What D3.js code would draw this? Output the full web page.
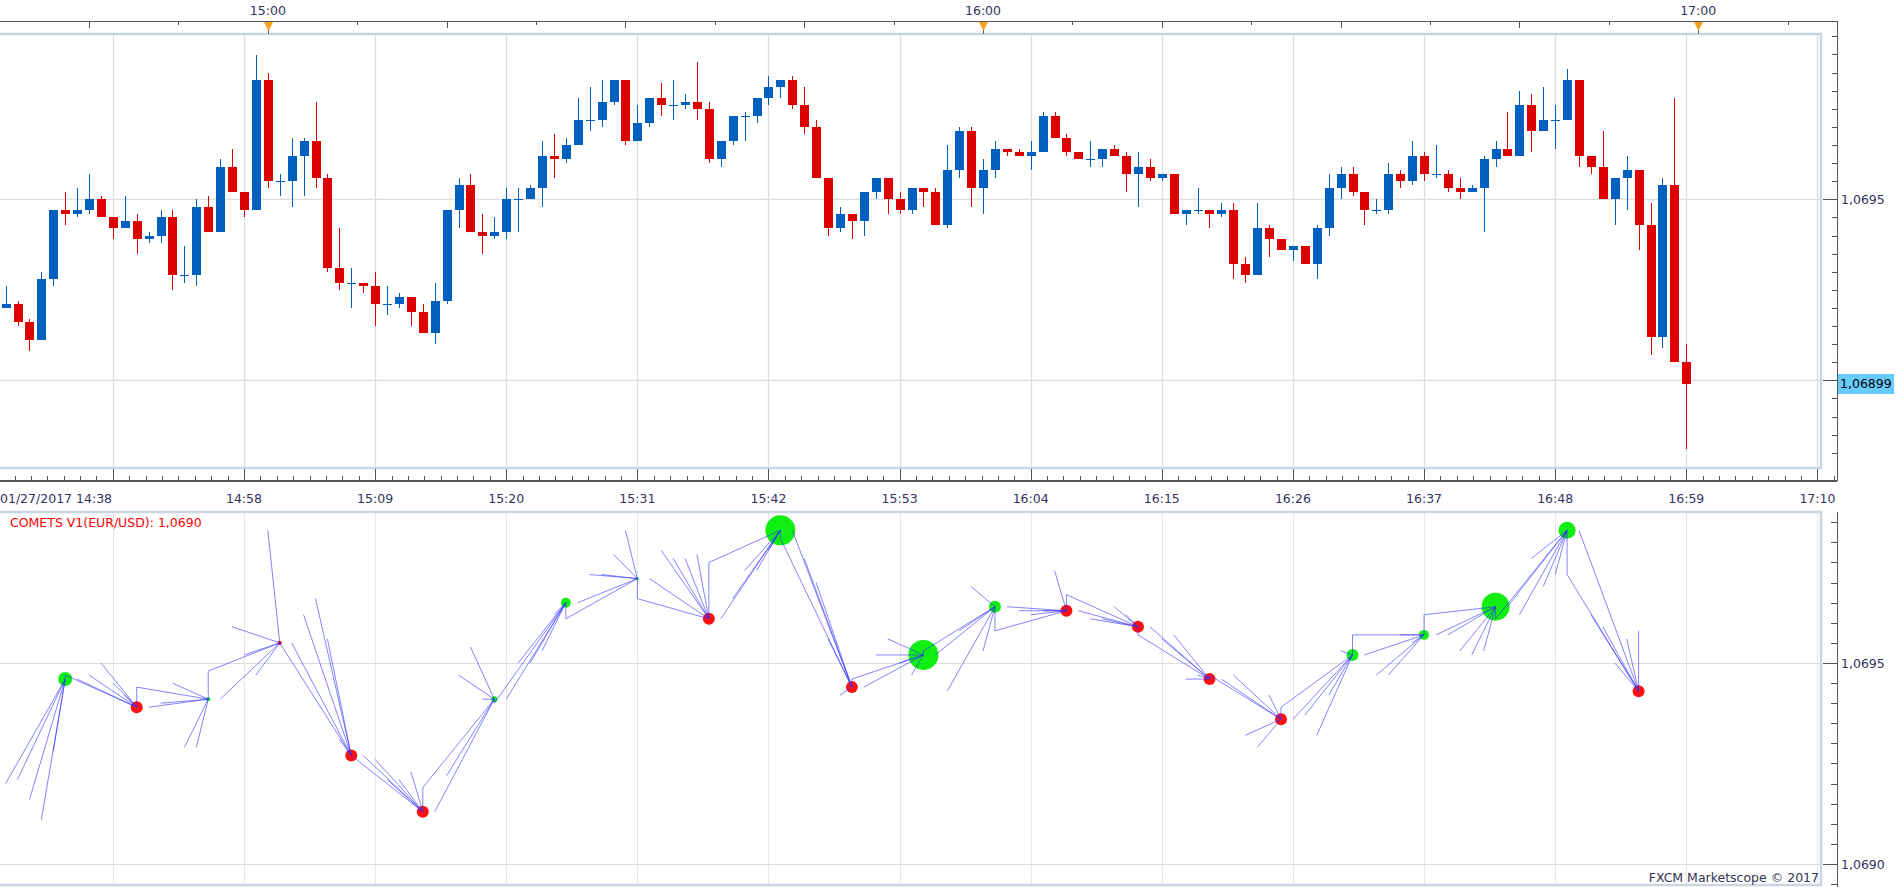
<!DOCTYPE html>
<html>
<head>
<meta charset="utf-8">
<title>EUR/USD 1 min - COMETS V1</title>
<script src="https://cdn.jsdelivr.net/npm/d3@7"></script>
<style>
  body { margin: 0; background: #fff; }
  svg { display: block; }
  text { font-family: "DejaVu Sans", Verdana, sans-serif; font-size: 12.5px; }
</style>
</head>
<body>
<div id="chart"></div>
<script>
// layout constants
const WIDTH = 1903;
const HEIGHT = 887;
const AXIS_X = 1837;        // right price axis line
const TOP_PANEL = { left: 0, right: 1821, top: 34, bottom: 468 };
const BOTTOM_PANEL = { left: 0, right: 1821, top: 512, bottom: 885 };
const TOP_AXIS_Y = 21;
const TIME_AXIS_Y = 481;
const CANDLE_WIDTH = 9;

const UP_COLOR = "#0060c0";
const DOWN_COLOR = "#dd0000";
const AXIS_TEXT = "#33335f";
const GRID_COLOR = "#dcdcdc";
const BORDER_COLOR = "#cad6e4";

// ---- data: EUR/USD one minute bars, 01/27/2017 14:38 -> 16:59 ----
const FIRST_BAR = "14:38";

const candleOpen = [
  1.06920, 1.06921, 1.06916, 1.06911, 1.06928, 1.06947, 1.06946, 1.06947, 1.06950, 1.06945,
  1.06942, 1.06944, 1.06939, 1.06940, 1.06945, 1.06929, 1.06929, 1.06948, 1.06941, 1.06959,
  1.06952, 1.06947, 1.06983, 1.06955, 1.06955, 1.06962, 1.06966, 1.06956, 1.06931, 1.06927,
  1.06927, 1.06926, 1.06921, 1.06921, 1.06923, 1.06919, 1.06913, 1.06922, 1.06947, 1.06954,
  1.06941, 1.06940, 1.06941, 1.06950, 1.06950, 1.06953, 1.06962, 1.06961, 1.06965, 1.06972,
  1.06972, 1.06977, 1.06983, 1.06966, 1.06971, 1.06978, 1.06976, 1.06976, 1.06977, 1.06975,
  1.06961, 1.06966, 1.06973, 1.06973, 1.06978, 1.06981, 1.06983, 1.06976, 1.06970, 1.06956,
  1.06942, 1.06946, 1.06944, 1.06952, 1.06956, 1.06950, 1.06947, 1.06953, 1.06952, 1.06943,
  1.06958, 1.06969, 1.06953, 1.06958, 1.06964, 1.06963, 1.06962, 1.06963, 1.06973, 1.06967,
  1.06963, 1.06961, 1.06961, 1.06964, 1.06962, 1.06957, 1.06959, 1.06956, 1.06957, 1.06946,
  1.06947, 1.06947, 1.06946, 1.06947, 1.06932, 1.06929, 1.06942, 1.06939, 1.06936, 1.06937,
  1.06932, 1.06942, 1.06953, 1.06957, 1.06952, 1.06947, 1.06947, 1.06957, 1.06955, 1.06962,
  1.06957, 1.06957, 1.06953, 1.06952, 1.06953, 1.06961, 1.06964, 1.06962, 1.06976, 1.06969,
  1.06972, 1.06972, 1.06983, 1.06962, 1.06959, 1.06950, 1.06956, 1.06958, 1.06943, 1.06912,
  1.06954, 1.06905
];
const candleHigh = [
  1.06926, 1.06922, 1.06917, 1.06930, 1.06947, 1.06952, 1.06953, 1.06957, 1.06951, 1.06945,
  1.06951, 1.06946, 1.06941, 1.06947, 1.06947, 1.06937, 1.06950, 1.06951, 1.06961, 1.06964,
  1.06952, 1.06990, 1.06985, 1.06957, 1.06967, 1.06967, 1.06977, 1.06957, 1.06942, 1.06931,
  1.06927, 1.06930, 1.06926, 1.06924, 1.06923, 1.06921, 1.06927, 1.06947, 1.06956, 1.06957,
  1.06946, 1.06945, 1.06953, 1.06953, 1.06954, 1.06966, 1.06968, 1.06967, 1.06978, 1.06981,
  1.06983, 1.06983, 1.06983, 1.06976, 1.06978, 1.06982, 1.06983, 1.06979, 1.06988, 1.06977,
  1.06966, 1.06973, 1.06974, 1.06978, 1.06984, 1.06983, 1.06984, 1.06981, 1.06972, 1.06956,
  1.06948, 1.06946, 1.06952, 1.06956, 1.06956, 1.06952, 1.06953, 1.06953, 1.06953, 1.06965,
  1.06970, 1.06970, 1.06961, 1.06966, 1.06964, 1.06964, 1.06966, 1.06974, 1.06974, 1.06968,
  1.06963, 1.06966, 1.06964, 1.06965, 1.06963, 1.06963, 1.06961, 1.06957, 1.06957, 1.06947,
  1.06953, 1.06947, 1.06949, 1.06949, 1.06934, 1.06949, 1.06943, 1.06939, 1.06937, 1.06937,
  1.06943, 1.06957, 1.06959, 1.06959, 1.06952, 1.06950, 1.06960, 1.06958, 1.06966, 1.06963,
  1.06965, 1.06958, 1.06956, 1.06954, 1.06962, 1.06966, 1.06974, 1.06980, 1.06979, 1.06981,
  1.06976, 1.06986, 1.06983, 1.06962, 1.06969, 1.06956, 1.06962, 1.06958, 1.06949, 1.06956,
  1.06978, 1.06910
];
const candleLow = [
  1.06920, 1.06915, 1.06908, 1.06911, 1.06926, 1.06943, 1.06945, 1.06946, 1.06945, 1.06939,
  1.06942, 1.06935, 1.06938, 1.06938, 1.06925, 1.06927, 1.06926, 1.06941, 1.06941, 1.06952,
  1.06945, 1.06947, 1.06953, 1.06951, 1.06948, 1.06951, 1.06953, 1.06930, 1.06925, 1.06920,
  1.06924, 1.06915, 1.06918, 1.06920, 1.06915, 1.06913, 1.06910, 1.06921, 1.06942, 1.06941,
  1.06935, 1.06939, 1.06939, 1.06941, 1.06950, 1.06948, 1.06956, 1.06960, 1.06965, 1.06969,
  1.06970, 1.06976, 1.06965, 1.06966, 1.06970, 1.06973, 1.06972, 1.06975, 1.06972, 1.06960,
  1.06959, 1.06965, 1.06966, 1.06971, 1.06976, 1.06978, 1.06975, 1.06968, 1.06956, 1.06940,
  1.06941, 1.06939, 1.06940, 1.06950, 1.06946, 1.06946, 1.06946, 1.06948, 1.06943, 1.06942,
  1.06956, 1.06948, 1.06946, 1.06956, 1.06962, 1.06962, 1.06958, 1.06963, 1.06967, 1.06962,
  1.06961, 1.06959, 1.06959, 1.06962, 1.06952, 1.06948, 1.06955, 1.06955, 1.06946, 1.06943,
  1.06946, 1.06942, 1.06945, 1.06928, 1.06927, 1.06929, 1.06934, 1.06936, 1.06933, 1.06932,
  1.06928, 1.06940, 1.06950, 1.06951, 1.06943, 1.06946, 1.06946, 1.06953, 1.06954, 1.06955,
  1.06956, 1.06952, 1.06950, 1.06952, 1.06941, 1.06959, 1.06962, 1.06962, 1.06963, 1.06969,
  1.06964, 1.06972, 1.06959, 1.06957, 1.06950, 1.06943, 1.06947, 1.06936, 1.06907, 1.06909,
  1.06905, 1.06881
];
const candleClose = [
  1.06921, 1.06916, 1.06911, 1.06928, 1.06947, 1.06946, 1.06947, 1.06950, 1.06945, 1.06942,
  1.06944, 1.06939, 1.06940, 1.06945, 1.06929, 1.06929, 1.06948, 1.06941, 1.06959, 1.06952,
  1.06947, 1.06983, 1.06955, 1.06955, 1.06962, 1.06966, 1.06956, 1.06931, 1.06927, 1.06927,
  1.06926, 1.06921, 1.06921, 1.06923, 1.06919, 1.06913, 1.06922, 1.06947, 1.06954, 1.06941,
  1.06940, 1.06941, 1.06950, 1.06950, 1.06953, 1.06962, 1.06961, 1.06965, 1.06972, 1.06972,
  1.06977, 1.06983, 1.06966, 1.06971, 1.06978, 1.06976, 1.06976, 1.06977, 1.06975, 1.06961,
  1.06966, 1.06973, 1.06973, 1.06978, 1.06981, 1.06983, 1.06976, 1.06970, 1.06956, 1.06942,
  1.06946, 1.06944, 1.06952, 1.06956, 1.06950, 1.06947, 1.06953, 1.06952, 1.06943, 1.06958,
  1.06969, 1.06953, 1.06958, 1.06964, 1.06963, 1.06962, 1.06963, 1.06973, 1.06967, 1.06963,
  1.06961, 1.06961, 1.06964, 1.06962, 1.06957, 1.06959, 1.06956, 1.06957, 1.06946, 1.06947,
  1.06947, 1.06946, 1.06947, 1.06932, 1.06929, 1.06942, 1.06939, 1.06936, 1.06937, 1.06932,
  1.06942, 1.06953, 1.06957, 1.06952, 1.06947, 1.06947, 1.06957, 1.06955, 1.06962, 1.06957,
  1.06957, 1.06953, 1.06952, 1.06953, 1.06961, 1.06964, 1.06962, 1.06976, 1.06969, 1.06972,
  1.06972, 1.06983, 1.06962, 1.06959, 1.06950, 1.06956, 1.06958, 1.06943, 1.06912, 1.06954,
  1.06905, 1.06899
];

// COMETS V1 nodes: one every 6 bars, starting with the 6th bar
const COMET_FIRST = 5;
const COMET_STEP = 6;
const cometColor = ["up", "down", "up", "down", "down", "down", "up", "up", "up", "down", "up", "down",
  "up", "up", "down", "down", "down", "down", "up", "up", "up", "up", "down"];
const cometWeight = [22, 16, 2, 2, 16, 16, 4, 11, 1, 16, 100, 16, 100, 16, 16, 16, 16, 16, 16, 11, 87, 32, 16];

// axis labels
const topTimeLabels = ["15:00", "16:00", "17:00"];
const bottomTimeLabels = ["01/27/2017 14:38", "14:58", "15:09", "15:20", "15:31", "15:42", "15:53",
  "16:04", "16:15", "16:26", "16:37", "16:48", "16:59", "17:10"];
const GRID_START = "14:47";
const GRID_STEP = 11;       // minutes between vertical gridlines
const priceGrid = [1.0695, 1.0690];
const INDICATOR_NAME = "COMETS V1(EUR/USD)";
const COPYRIGHT = "FXCM Marketscope \u00a9 2017";

// ---- helpers ----
const parseTime = d3.timeParse("%H:%M");
const fmt4 = (p) => d3.format(".4f")(p).replace(".", ",");
const fmt5 = (p) => d3.format(".5f")(p).replace(".", ",");

const firstTime = parseTime(FIRST_BAR);
const candles = candleOpen.map((o, i) => ({
  time: d3.timeMinute.offset(firstTime, i),
  open: o,
  high: candleHigh[i],
  low: candleLow[i],
  close: candleClose[i],
}));

const comets = cometColor.map((c, k) => {
  const n = COMET_FIRST + k * COMET_STEP;
  return { n: n, dir: c, weight: cometWeight[k], time: candles[n].time, price: candles[n].close };
});

const tails = [];
comets.forEach((c) => {
  for (let j = Math.max(0, c.n - COMET_STEP); j <= c.n; j++) {
    tails.push({ from: candles[j], to: c });
  }
});

// ---- scales ----
const x = d3.scaleTime()
  .domain([parseTime("14:38"), parseTime("17:10")])
  .range([5.6, 1817.4]);

const yTop = d3.scaleLinear().domain([1.0690, 1.0695]).range([380.3, 199.3]);
const yBot = d3.scaleLinear().domain([1.0690, 1.0695]).range([864, 663]);
const rScale = d3.scaleSqrt().domain([0, 100]).range([0, 15]);

const gridStart = parseTime(GRID_START);
const gridTimes = d3.range(0, 14).map((k) => d3.timeMinute.offset(gridStart, k * GRID_STEP));

setup();

function setup() {
  const svg = d3.select("#chart")
    .append("svg")
    .attr("width", WIDTH)
    .attr("height", HEIGHT);

  svg.append("rect").attr("width", WIDTH).attr("height", HEIGHT).attr("fill", "#fff");

  const defs = svg.append("defs");
  defs.append("clipPath").attr("id", "clip-top")
    .append("rect")
    .attr("x", TOP_PANEL.left).attr("y", TOP_PANEL.top)
    .attr("width", TOP_PANEL.right - TOP_PANEL.left)
    .attr("height", TOP_PANEL.bottom - TOP_PANEL.top);
  defs.append("clipPath").attr("id", "clip-bottom")
    .append("rect")
    .attr("x", BOTTOM_PANEL.left).attr("y", BOTTOM_PANEL.top)
    .attr("width", BOTTOM_PANEL.right - BOTTOM_PANEL.left)
    .attr("height", BOTTOM_PANEL.bottom - BOTTOM_PANEL.top);

  drawTopPanel(svg);
  drawTimeAxes(svg);
  drawPriceAxis(svg);
  drawBottomPanel(svg);
}

/**
 * Candle chart with its grid
 */
function drawTopPanel(svg) {
  const grid = svg.append("g").attr("class", "top-grid");
  grid.selectAll("line.v")
    .data(gridTimes)
    .join("line")
    .attr("class", "v")
    .attr("x1", (d) => Math.round(x(d)) + 0.5)
    .attr("x2", (d) => Math.round(x(d)) + 0.5)
    .attr("y1", TOP_PANEL.top)
    .attr("y2", TOP_PANEL.bottom)
    .attr("stroke", GRID_COLOR)
    .attr("stroke-width", 1.3);
  grid.selectAll("line.h")
    .data(priceGrid)
    .join("line")
    .attr("class", "h")
    .attr("x1", TOP_PANEL.left)
    .attr("x2", TOP_PANEL.right)
    .attr("y1", (d) => yTop(d))
    .attr("y2", (d) => yTop(d))
    .attr("stroke", GRID_COLOR)
    .attr("stroke-width", 1.3);

  const candleGroup = svg.append("g")
    .attr("class", "candles")
    .attr("clip-path", "url(#clip-top)")
    .attr("shape-rendering", "crispEdges");

  const color = (d) => (d.close >= d.open ? UP_COLOR : DOWN_COLOR);

  candleGroup.selectAll("line.wick")
    .data(candles)
    .join("line")
    .attr("class", "wick")
    .attr("x1", (d) => Math.round(x(d.time)) + 0.5)
    .attr("x2", (d) => Math.round(x(d.time)) + 0.5)
    .attr("y1", (d) => yTop(d.high))
    .attr("y2", (d) => yTop(d.low))
    .attr("stroke", color)
    .attr("stroke-width", 1);

  candleGroup.selectAll("rect.body")
    .data(candles)
    .join("rect")
    .attr("class", "body")
    .attr("x", (d) => Math.round(x(d.time)) + 0.5 - CANDLE_WIDTH / 2)
    .attr("y", (d) => yTop(Math.max(d.open, d.close)))
    .attr("width", CANDLE_WIDTH)
    .attr("height", (d) => Math.max(1, yTop(Math.min(d.open, d.close)) - yTop(Math.max(d.open, d.close))))
    .attr("fill", color);

  // panel frame
  svg.append("rect")
    .attr("x", TOP_PANEL.left - 2)
    .attr("y", TOP_PANEL.top)
    .attr("width", TOP_PANEL.right - TOP_PANEL.left + 2)
    .attr("height", TOP_PANEL.bottom - TOP_PANEL.top)
    .attr("fill", "none")
    .attr("stroke", BORDER_COLOR)
    .attr("stroke-width", 2.5);
}

/**
 * Top hour axis and bottom time axis
 */
function drawTimeAxes(svg) {
  const g = svg.append("g").attr("class", "time-axes").attr("shape-rendering", "crispEdges");

  // top axis
  g.append("line")
    .attr("x1", 0).attr("x2", AXIS_X)
    .attr("y1", TOP_AXIS_Y + 0.5).attr("y2", TOP_AXIS_Y + 0.5)
    .attr("stroke", "#555").attr("stroke-width", 1.5);

  const topTicks = d3.range(0, 22).map((k) => d3.timeSecond.offset(firstTime, -30 + 450 * k))
    .filter((d) => x(d) > 1 && x(d) < AXIS_X - 2);
  g.selectAll("line.top-tick")
    .data(topTicks)
    .join("line")
    .attr("class", "top-tick")
    .attr("x1", (d) => Math.round(x(d)) + 0.5)
    .attr("x2", (d) => Math.round(x(d)) + 0.5)
    .attr("y1", TOP_AXIS_Y)
    .attr("y2", (d) => TOP_AXIS_Y + (d.getMinutes() % 15 === 0 && d.getSeconds() === 0 ? 7 : 4))
    .attr("stroke", "#555")
    .attr("stroke-width", 1.2);

  const hourTimes = topTimeLabels.map(parseTime);
  g.selectAll("path.marker")
    .data(hourTimes)
    .join("path")
    .attr("class", "marker")
    .attr("d", (d) => {
      const cx = Math.round(x(d)) + 0.5;
      return `M${cx - 4.5},${TOP_AXIS_Y + 1}L${cx + 4.5},${TOP_AXIS_Y + 1}L${cx},${TOP_AXIS_Y + 10}Z`;
    })
    .attr("fill", "#f5a11c")
    .attr("shape-rendering", "auto");
  g.selectAll("line.marker-stem")
    .data(hourTimes)
    .join("line")
    .attr("class", "marker-stem")
    .attr("x1", (d) => Math.round(x(d)) + 0.5)
    .attr("x2", (d) => Math.round(x(d)) + 0.5)
    .attr("y1", TOP_AXIS_Y + 9)
    .attr("y2", TOP_PANEL.top)
    .attr("stroke", "#666");

  g.selectAll("text.top-label")
    .data(topTimeLabels)
    .join("text")
    .attr("class", "top-label")
    .attr("x", (d) => x(parseTime(d)))
    .attr("y", 15)
    .attr("text-anchor", "middle")
    .attr("fill", AXIS_TEXT)
    .text((d) => d);

  // bottom axis
  g.append("line")
    .attr("x1", 0).attr("x2", AXIS_X)
    .attr("y1", TIME_AXIS_Y).attr("y2", TIME_AXIS_Y)
    .attr("stroke", "#555").attr("stroke-width", 1.5);

  const minorTicks = d3.range(-8, 14 * 8).map((k) => d3.timeMillisecond.offset(gridStart, k * GRID_STEP * 60000 / 8))
    .filter((d) => x(d) > 1 && x(d) < AXIS_X - 2);
  g.selectAll("line.minor")
    .data(minorTicks)
    .join("line")
    .attr("class", "minor")
    .attr("x1", (d) => Math.round(x(d)) + 0.5)
    .attr("x2", (d) => Math.round(x(d)) + 0.5)
    .attr("y1", TIME_AXIS_Y - 5)
    .attr("y2", TIME_AXIS_Y)
    .attr("stroke", "#555");

  g.selectAll("line.major")
    .data(gridTimes)
    .join("line")
    .attr("class", "major")
    .attr("x1", (d) => Math.round(x(d)) + 0.5)
    .attr("x2", (d) => Math.round(x(d)) + 0.5)
    .attr("y1", TOP_PANEL.bottom + 1)
    .attr("y2", TIME_AXIS_Y)
    .attr("stroke", "#555")
    .attr("stroke-width", 1.3);

  g.selectAll("text.bottom-label")
    .data(bottomTimeLabels)
    .join("text")
    .attr("class", "bottom-label")
    .attr("x", (d, i) => (i === 0 ? 0 : x(parseTime(d))))
    .attr("y", 503)
    .attr("text-anchor", (d, i) => (i === 0 ? "start" : "middle"))
    .attr("fill", AXIS_TEXT)
    .text((d) => d);
}

/**
 * Right price axis for the candle panel
 */
function drawPriceAxis(svg) {
  const g = svg.append("g").attr("class", "price-axis").attr("shape-rendering", "crispEdges");

  g.append("line")
    .attr("x1", AXIS_X + 0.5).attr("x2", AXIS_X + 0.5)
    .attr("y1", TOP_AXIS_Y).attr("y2", TIME_AXIS_Y)
    .attr("stroke", "#555").attr("stroke-width", 1.5);

  const ticks = d3.range(0, 25).map((k) => +(1.0688 + k * 0.00005).toFixed(5))
    .filter((p) => yTop(p) > TOP_PANEL.top && yTop(p) < TOP_PANEL.bottom);
  g.selectAll("line.ptick")
    .data(ticks)
    .join("line")
    .attr("class", "ptick")
    .attr("x1", (d) => (priceGrid.includes(d) ? TOP_PANEL.right + 2 : AXIS_X - 5))
    .attr("x2", AXIS_X)
    .attr("y1", (d) => Math.round(yTop(d)) + 0.5)
    .attr("y2", (d) => Math.round(yTop(d)) + 0.5)
    .attr("stroke", "#555");

  g.selectAll("text.plabel")
    .data(priceGrid.slice(0, 1))
    .join("text")
    .attr("class", "plabel")
    .attr("x", AXIS_X + 4)
    .attr("y", (d) => yTop(d) + 4.5)
    .attr("fill", AXIS_TEXT)
    .text((d) => fmt4(d));

  // last price marker
  const last = candles[candles.length - 1].close;
  g.append("rect")
    .attr("x", AXIS_X + 1)
    .attr("y", yTop(last) - 10)
    .attr("width", 56)
    .attr("height", 20)
    .attr("fill", "#66ccff");
  g.append("text")
    .attr("x", AXIS_X + 3)
    .attr("y", yTop(last) + 4.5)
    .attr("fill", "#000")
    .text(fmt5(last));
}

/**
 * COMETS indicator panel
 */
function drawBottomPanel(svg) {
  const grid = svg.append("g").attr("class", "bottom-grid").attr("shape-rendering", "crispEdges");
  grid.selectAll("line.v")
    .data(gridTimes)
    .join("line")
    .attr("class", "v")
    .attr("x1", (d) => Math.round(x(d)) + 0.5)
    .attr("x2", (d) => Math.round(x(d)) + 0.5)
    .attr("y1", BOTTOM_PANEL.top)
    .attr("y2", BOTTOM_PANEL.bottom)
    .attr("stroke", "#e6e6e6");
  grid.selectAll("line.h")
    .data(priceGrid)
    .join("line")
    .attr("class", "h")
    .attr("x1", BOTTOM_PANEL.left)
    .attr("x2", BOTTOM_PANEL.right)
    .attr("y1", (d) => Math.round(yBot(d)) + 0.5)
    .attr("y2", (d) => Math.round(yBot(d)) + 0.5)
    .attr("stroke", GRID_COLOR)
    .attr("stroke-width", 1.3);

  const plot = svg.append("g").attr("class", "comets").attr("clip-path", "url(#clip-bottom)");

  plot.selectAll("circle")
    .data(comets)
    .join("circle")
    .attr("cx", (d) => x(d.time))
    .attr("cy", (d) => yBot(d.price))
    .attr("r", (d) => rScale(d.weight))
    .attr("fill", (d) => (d.dir === "up" ? "#11ee11" : "#ff1010"));

  plot.selectAll("line.tail")
    .data(tails)
    .join("line")
    .attr("class", "tail")
    .attr("x1", (d) => x(d.from.time))
    .attr("y1", (d) => yBot(d.from.open))
    .attr("x2", (d) => x(d.to.time))
    .attr("y2", (d) => yBot(d.to.price))
    .attr("stroke", "#3030ff")
    .attr("stroke-opacity", 0.7)
    .attr("stroke-width", 0.85);

  svg.append("rect")
    .attr("x", BOTTOM_PANEL.left - 2)
    .attr("y", BOTTOM_PANEL.top)
    .attr("width", BOTTOM_PANEL.right - BOTTOM_PANEL.left + 2)
    .attr("height", BOTTOM_PANEL.bottom - BOTTOM_PANEL.top)
    .attr("fill", "none")
    .attr("stroke", BORDER_COLOR)
    .attr("stroke-width", 2.5);

  // title and footer
  const last = candles[candles.length - 1].close;
  svg.append("text")
    .attr("x", 10)
    .attr("y", 527)
    .attr("fill", "#ff0000")
    .text(`${INDICATOR_NAME}: ${fmt4(last)}`);
  svg.append("text")
    .attr("x", BOTTOM_PANEL.right - 2)
    .attr("y", 882)
    .attr("text-anchor", "end")
    .attr("fill", "#333355")
    .text(COPYRIGHT);

  // right axis of the indicator
  const g = svg.append("g").attr("class", "comet-axis").attr("shape-rendering", "crispEdges");
  g.append("line")
    .attr("x1", AXIS_X + 0.5).attr("x2", AXIS_X + 0.5)
    .attr("y1", BOTTOM_PANEL.top).attr("y2", HEIGHT)
    .attr("stroke", "#555").attr("stroke-width", 1.5);

  const ticks = d3.range(0, 25).map((k) => +(1.0688 + k * 0.00005).toFixed(5))
    .filter((p) => yBot(p) > BOTTOM_PANEL.top + 4 && yBot(p) < BOTTOM_PANEL.bottom);
  g.selectAll("line.ctick")
    .data(ticks)
    .join("line")
    .attr("class", "ctick")
    .attr("x1", (d) => (priceGrid.includes(d) ? BOTTOM_PANEL.right + 2 : AXIS_X - 6))
    .attr("x2", AXIS_X)
    .attr("y1", (d) => Math.round(yBot(d)) + 0.5)
    .attr("y2", (d) => Math.round(yBot(d)) + 0.5)
    .attr("stroke", "#555");

  g.selectAll("text.clabel")
    .data(priceGrid)
    .join("text")
    .attr("class", "clabel")
    .attr("x", AXIS_X + 4)
    .attr("y", (d) => yBot(d) + 5)
    .attr("fill", AXIS_TEXT)
    .text((d) => fmt4(d));
}
</script>
</body>
</html>
